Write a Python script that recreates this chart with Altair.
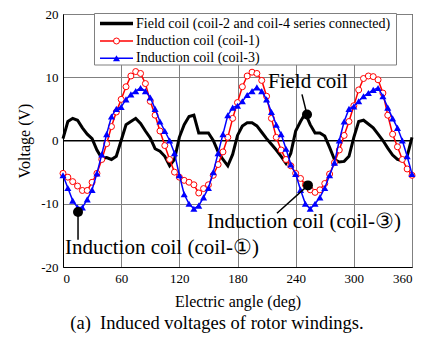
import altair as alt
import pandas as pd

angles = list(range(0, 361, 5))

field_coil = [0.3, 3.0, 3.5, 3.2, 2.0, 1.0, 0.3, -1.5, -2.8, -2.7, -3.0, -2.5, 0.0,
              2.5, 3.0, 3.5, 2.7, 1.5, 0.4, -1.3, -1.7, -2.5, -4.0, -3.0, 0.5,
              2.5, 3.8, 4.0, 1.2, 1.2, 1.2, 0.0, -1.8, -3.0, -4.0, -2.2, 0.8,
              2.3, 2.8, 2.8, 2.3, 1.3, 0.3, -0.6, -1.5, -2.5, -3.6, -2.0, 1.5,
              3.0, 4.3, 2.5, 1.2, 1.2, 0.7, -1.1, -3.0, -3.4, -3.3, -2.5, 0.5,
              3.0, 3.2, 2.6, 2.0, 1.0, 0.0, -1.2, -2.3, -3.0, -3.2, -2.5, 0.5]

coil_1 = [-5.2, -5.8, -6.5, -7.2, -7.9, -7.9, -6.6, -5.2, -3.0, -0.5, 2.2, 4.5, 6.5,
          8.5, 10.2, 10.9, 10.6, 9.0, 6.2, 4.0, 1.5, -0.8, -3.0, -5.0, -5.8,
          -6.3, -6.6, -7.0, -8.3, -7.6, -7.0, -5.5, -3.8, -1.8, 0.5, 3.5, 6.0,
          8.5, 10.2, 10.8, 10.6, 9.5, 7.0, 3.5, 0.5, -1.5, -3.0, -4.0, -5.2,
          -6.0, -7.0, -7.8, -8.2, -7.8, -6.8, -5.3, -3.5, -1.5, 0.8, 3.0, 5.5,
          8.0, 9.8, 10.2, 10.1, 9.6, 7.5, 4.0, 1.0, -1.0, -3.0, -4.5, -5.5]

coil_3 = [-5.5, -7.5, -9.5, -10.6, -10.6, -9.3, -7.8, -5.2, -2.2, 1.0, 3.8, 5.0, 5.3,
          6.5, 7.3, 7.8, 8.3, 7.8, 6.8, 5.0, 3.0, 1.5, 0.0, -2.0, -5.5,
          -8.5, -10.0, -10.8, -10.3, -9.0, -7.5, -5.0, -2.0, 1.0, 4.0, 5.2, 5.5,
          6.2, 7.2, 7.8, 8.4, 7.8, 6.5, 4.5, 2.5, 1.0, -1.3, -3.8, -5.3,
          -7.8, -10.0, -10.8, -10.0, -9.0, -7.5, -5.5, -3.5, 0.0, 3.0, 5.0, 5.4,
          6.2, 7.0, 7.5, 8.0, 8.3, 7.0, 5.2, 3.5, 2.0, 0.0, -2.5, -5.3]

legend_labels = ["Field coil (coil-2 and coil-4 series connected)",
                 "Induction coil (coil-1)",
                 "Induction coil (coil-3)"]

ann_text = ["Field coil", "Induction coil (coil-\u2462)", "Induction coil (coil-\u2460)"]
ann_text_x = [211.5, 148.5, 2.0]
ann_text_y = [9.3, -12.9, -17.0]
ann_dot_x = [251.7, 252.7, 15.5]
ann_dot_y = [4.1, -7.1, -11.3]
ann_end_x = [246.5, 220.7, 15.5]
ann_end_y = [7.3, -11.5, -15.7]

caption = "(a)\u00a0 Induced voltages of rotor windings."

FONT = "Liberation Serif"

df = pd.DataFrame({"angle": angles, "field": field_coil, "c1": coil_1, "c3": coil_3})

xs = alt.Scale(domain=[0, 360], nice=False)
ys = alt.Scale(domain=[-20, 20], nice=False)
xax = alt.Axis(values=list(range(0, 361, 60)), title="Electric angle (deg)",
               labelPadding=5, titlePadding=8, ticks=False)
yax = alt.Axis(values=list(range(-20, 21, 5)), title="Voltage (V)",
               labelPadding=5, titlePadding=8, ticks=False,
               labelExpr="'' + datum.value")

base = alt.Chart(df)
X = alt.X("angle:Q", scale=xs, axis=xax)

zero = alt.Chart(pd.DataFrame({"z": [0]})).mark_rule(color="black", strokeWidth=1).encode(
    y=alt.Y("z:Q", scale=ys))

field_line = base.mark_line(color="black", strokeWidth=3).encode(
    x=X, y=alt.Y("field:Q", scale=ys, axis=yax))

c1_line = base.mark_line(color="#ff0000", strokeWidth=1.5).encode(x="angle:Q", y="c1:Q")
c1_pts = base.mark_point(shape="circle", filled=True, fill="white", stroke="#ff0000",
                         strokeWidth=1, size=36, opacity=1).encode(x="angle:Q", y="c1:Q")
c3_line = base.mark_line(color="#0000ff", strokeWidth=1.5).encode(x="angle:Q", y="c3:Q")
c3_pts = base.mark_point(shape="triangle-up", filled=True, color="#0000ff",
                         size=50, opacity=1).encode(x="angle:Q", y="c3:Q")

one = pd.DataFrame({"a": [0]})
leg_box = alt.Chart(one).mark_rect(fill="white", stroke="#808080", strokeWidth=1).encode(
    x=alt.value(31.5), x2=alt.value(333.5), y=alt.value(-0.5), y2=alt.value(51))

row_y = [9.5, 27, 44.3]
row_colors = ["black", "#ff0000", "#0000ff"]
row_widths = [3.5, 1.5, 1.5]
leg_layers = []
for i in range(3):
    leg_layers.append(alt.Chart(one).mark_rule(color=row_colors[i], strokeWidth=row_widths[i]).encode(
        x=alt.value(37), x2=alt.value(70), y=alt.value(row_y[i])))
leg_layers.append(alt.Chart(one).mark_point(shape="circle", filled=True, fill="white",
                                            stroke="#ff0000", strokeWidth=1, size=36, opacity=1).encode(
    x=alt.value(53.5), y=alt.value(row_y[1])))
leg_layers.append(alt.Chart(one).mark_point(shape="triangle-up", filled=True, color="#0000ff",
                                            size=50, opacity=1).encode(
    x=alt.value(53.5), y=alt.value(row_y[2])))
for i in range(3):
    leg_layers.append(alt.Chart(pd.DataFrame({"t": [legend_labels[i]]})).mark_text(
        align="left", baseline="middle", font=FONT, fontSize=14, color="black").encode(
        x=alt.value(73), y=alt.value(row_y[i]), text="t:N"))

ann = pd.DataFrame({"text": ann_text, "tx": ann_text_x, "ty": ann_text_y,
                    "dx": ann_dot_x, "dy": ann_dot_y, "ex": ann_end_x, "ey": ann_end_y})
ann_lines = alt.Chart(ann).mark_rule(color="black", strokeWidth=1.5).encode(
    x="dx:Q", y="dy:Q", x2="ex:Q", y2="ey:Q")
ann_dots = alt.Chart(ann).mark_point(shape="circle", filled=True, color="black",
                                     size=100, opacity=1).encode(x="dx:Q", y="dy:Q")
ann_texts = alt.Chart(ann).mark_text(align="left", baseline="middle", font=FONT,
                                     fontSize=21, color="black").encode(
    x="tx:Q", y="ty:Q", text="text:N")

cap = alt.Chart(pd.DataFrame({"t": [caption]})).mark_text(
    align="center", baseline="middle", font=FONT, fontSize=18.5, color="black").encode(
    x=alt.value(154), y=alt.value(309), text="t:N")

chart = alt.layer(
    field_line, zero, c1_line, c1_pts, c3_line, c3_pts,
    leg_box, *leg_layers, ann_lines, ann_dots, ann_texts, cap
).properties(
    width=349, height=253,
    autosize=alt.AutoSizeParams(type="none"),
    padding={"left": 55, "top": 6, "right": 4, "bottom": 70},
    background="white"
).configure_axis(
    gridColor="#808080", gridWidth=1, domainColor="black",
    labelFont=FONT, titleFont=FONT, labelFontSize=13, titleFontSize=16,
    labelColor="black", titleColor="black", titleFontWeight="normal"
).configure_view(stroke="black", strokeWidth=1)

chart.save("out.html", embed_options={"renderer": "svg", "actions": False})
